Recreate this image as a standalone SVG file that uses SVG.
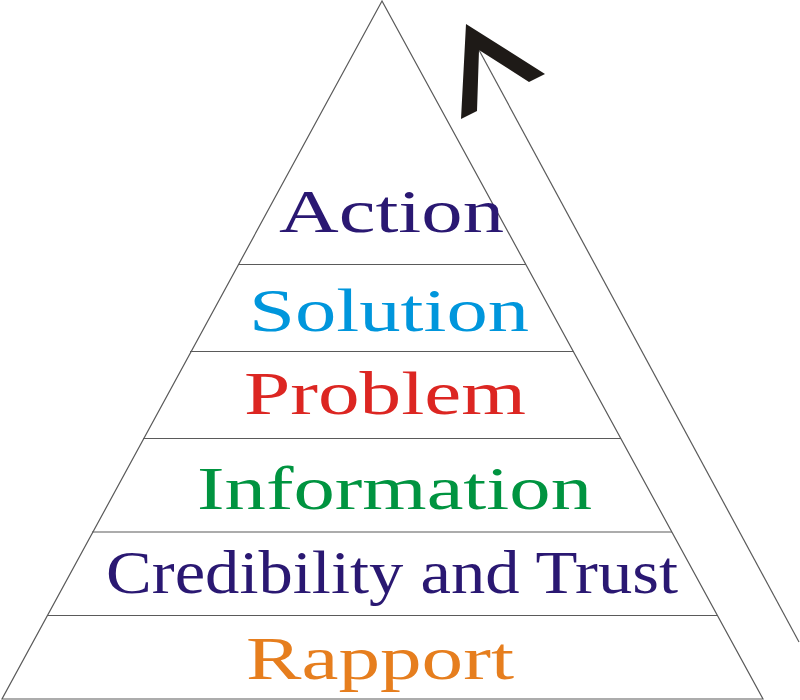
<svg xmlns="http://www.w3.org/2000/svg" width="800" height="700" viewBox="0 0 800 700">
<style>
.ln{stroke:#5a5a5a;stroke-width:1.2;fill:none}
.t{font-family:"Liberation Serif","Times New Roman",serif;font-size:61px}
</style>
<rect width="800" height="700" fill="#ffffff"/>
<g id="pyramid">
<polygon class="ln" points="382,1 2,699 763,699"/>
<line class="ln" x1="238" y1="264.5" x2="526" y2="264.5"/>
<line class="ln" x1="190" y1="351.5" x2="574" y2="351.5"/>
<line class="ln" x1="143" y1="438.5" x2="621" y2="438.5"/>
<line class="ln" x1="92" y1="532" x2="672" y2="532"/>
<line class="ln" x1="47" y1="615.5" x2="717" y2="615.5"/>
</g>
<g id="connectors">
<line class="ln" x1="479" y1="50" x2="799" y2="642"/>
<polygon fill="#1e1a17" points="466,24 545,74 529,82 479,50 477,111 461,119"/>
</g>
<g id="node-action"><text class="t" x="279" y="232" textLength="225" lengthAdjust="spacingAndGlyphs" fill="#2a1872">Action</text></g>
<g id="node-solution"><text class="t" x="249" y="331" textLength="280" lengthAdjust="spacingAndGlyphs" fill="#0096dc">Solution</text></g>
<g id="node-problem"><text class="t" x="244" y="414" textLength="282" lengthAdjust="spacingAndGlyphs" fill="#dc2622">Problem</text></g>
<g id="node-information"><text class="t" x="197" y="509" textLength="395" lengthAdjust="spacingAndGlyphs" fill="#009440">Information</text></g>
<g id="node-credibility"><text class="t" x="106" y="593" textLength="572" lengthAdjust="spacingAndGlyphs" fill="#2a1872">Credibility and Trust</text></g>
<g id="node-rapport"><text class="t" x="246" y="679" textLength="268" lengthAdjust="spacingAndGlyphs" fill="#e67e1e">Rapport</text></g>
</svg>
